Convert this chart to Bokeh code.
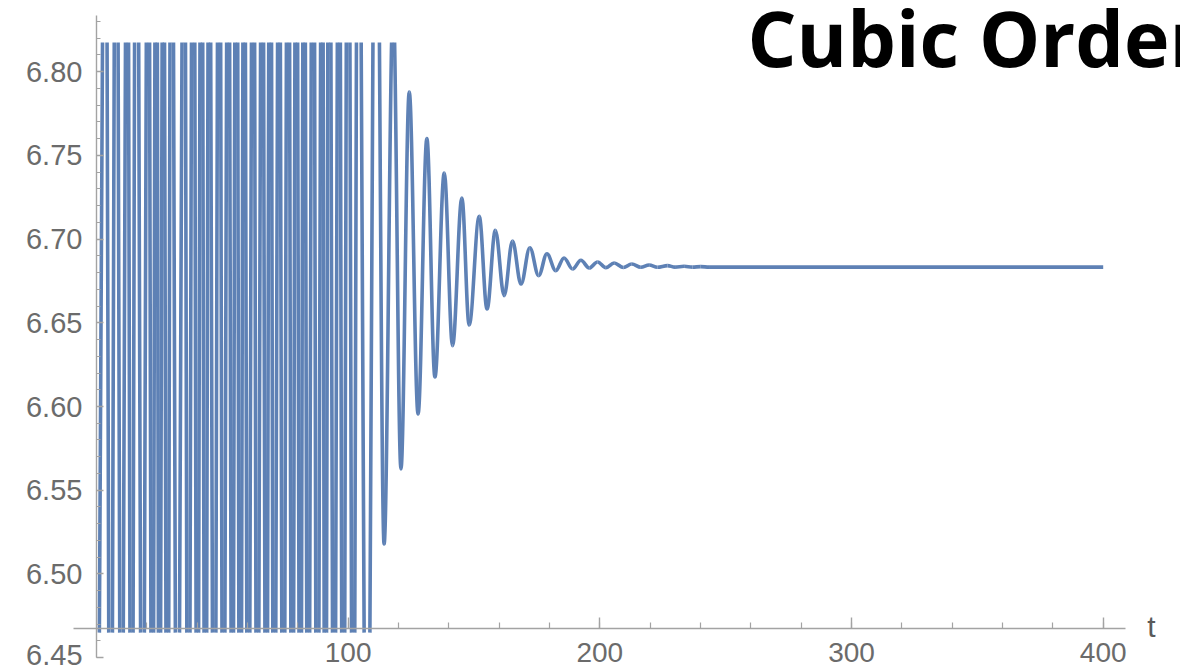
import numpy as np
from bokeh.plotting import figure
from bokeh.models import FixedTicker, NumeralTickFormatter, Label
from bokeh.embed import file_html
from bokeh.resources import INLINE

# ---- data (extrema of the solution curve) ----
# early part: oscillation far beyond the plotted range (values above/below are estimates)
peak_t = [3.6, 7.9, 12.3, 15.9, 20.6, 23.8, 26.6, 29.8, 34.9, 38.5, 41.7, 44.8, 48.8, 52.4,
          55.6, 58.7, 62.3, 65.9, 69.0, 72.6, 76.2, 79.4, 82.5, 86.1, 89.7, 92.5, 96.4, 100.0,
          104.0, 111.1, 117.9,
          124.3, 131.3, 138.2, 145.2, 152.1, 158.5, 165.3, 172.2, 179.0, 185.8, 192.5, 199.1,
          205.7, 212.7, 219.6, 226.9, 233.5, 240.1]
peak_v = [6.98, 7.02, 6.96, 7.05, 6.99, 7.01, 6.95, 7.03, 6.97, 7.04, 7.00, 6.96, 7.02, 6.98,
          7.05, 6.97, 7.01, 6.99, 7.03, 6.96, 7.02, 7.00, 6.98, 7.04, 6.97, 7.01, 6.99, 7.03,
          7.00, 7.00, 6.84,
          6.7878, 6.7599, 6.7394, 6.7245, 6.7135, 6.7052, 6.6988, 6.6948, 6.6912, 6.6887,
          6.6873, 6.6863, 6.6857, 6.6851, 6.6845, 6.6841, 6.6837, 6.6835]
trough_t = [0.0, 5.6, 9.9, 13.9, 18.3, 22.2, 25.0, 28.2, 32.1, 36.5, 40.1, 43.3, 46.8, 50.4,
            54.0, 57.1, 60.3, 63.9, 67.5, 70.6, 74.2, 77.8, 81.0, 84.1, 87.7, 90.9, 94.4, 98.0,
            102.0, 107.5, 114.3,
            121.0, 127.8, 134.5, 141.5, 148.1, 155.2, 162.0, 168.7, 175.7, 182.5, 189.2, 195.8,
            202.4, 209.4, 216.3, 222.9, 229.9, 236.8, 243.4]
trough_v = [6.30, 6.28, 6.31, 6.27, 6.30, 6.29, 6.32, 6.28, 6.30, 6.27, 6.31, 6.29, 6.28, 6.30,
            6.32, 6.27, 6.29, 6.31, 6.28, 6.30, 6.29, 6.27, 6.31, 6.30, 6.28, 6.29, 6.31, 6.28,
            6.30, 6.30, 6.518,
            6.5627, 6.5955, 6.6176, 6.6363, 6.6487, 6.6582, 6.6662, 6.6731, 6.6781, 6.6811,
            6.6821, 6.6827, 6.6829, 6.6830, 6.6831, 6.6831, 6.6832, 6.6832, 6.6832]
end_t = [400.0]
end_v = [6.6832]

x_major = [100, 200, 300, 400]
y_major = [6.45, 6.50, 6.55, 6.60, 6.65, 6.70, 6.75, 6.80]
title_text = "Cubic Order"
x_label = "t"

# plot range of the original (curve is cut at it)
clip_lo, clip_hi = 6.465, 6.8173
# visible window (frame covers the whole canvas)
x_start, x_end = -38.10, 430.71
y_start, y_end = 6.44179, 6.84239

# ---- smooth arcs between successive extrema, cut exactly at the plot range ----
t_all = np.array(peak_t + trough_t + end_t)
v_all = np.array(peak_v + trough_v + end_v)
order = np.argsort(t_all)
t_all, v_all = t_all[order], v_all[order]
k = 1 - 2 / np.pi
X0, X3 = t_all[:-1], t_all[1:]
Y0, Y3 = v_all[:-1], v_all[1:]
dX = X3 - X0
X1, X2 = X0 + k * dX, X3 - k * dX
Y1, Y2 = Y0, Y3


def inv_smooth(r):
    r = np.clip(r, 0.0, 1.0)
    return 0.5 - np.sin(np.arcsin(1 - 2 * r) / 3)


def bez(a, b, c, d, u):
    return (1 - u) ** 3 * a + 3 * (1 - u) ** 2 * u * b + 3 * (1 - u) * u ** 2 * c + u ** 3 * d


def dbez(a, b, c, d, u):
    return 3 * (1 - u) ** 2 * (b - a) + 6 * (1 - u) * u * (c - b) + 3 * u ** 2 * (d - c)


dY = Y3 - Y0
flat = np.abs(dY) < 1e-12
safe = np.where(flat, 1.0, dY)
ra = (clip_lo - Y0) / safe
rb = (clip_hi - Y0) / safe
rmin = np.clip(np.minimum(ra, rb), 0, 1)
rmax = np.clip(np.maximum(ra, rb), 0, 1)
inside_flat = (Y0 >= clip_lo) & (Y0 <= clip_hi)
rmin = np.where(flat, 0.0, rmin)
rmax = np.where(flat, np.where(inside_flat, 1.0, 0.0), rmax)
vis = rmax > rmin
ua, ub = inv_smooth(rmin[vis]), inv_smooth(rmax[vis])
du = (ub - ua) / 3
P = [arr[vis] for arr in (X0, X1, X2, X3)]
Q = [arr[vis] for arr in (Y0, Y1, Y2, Y3)]
sx0, sy0 = bez(*P, ua), bez(*Q, ua)
sx3, sy3 = bez(*P, ub), bez(*Q, ub)
sx1, sy1 = sx0 + du * dbez(*P, ua), sy0 + du * dbez(*Q, ua)
sx2, sy2 = sx3 - du * dbez(*P, ub), sy3 - du * dbez(*Q, ub)

p = figure(width=1180, height=671, x_range=(x_start, x_end), y_range=(y_start, y_end),
           output_backend="svg", toolbar_location=None,
           min_border_left=0, min_border_right=0, min_border_top=0, min_border_bottom=0)
p.xgrid.visible = False
p.ygrid.visible = False
p.outline_line_color = None
p.background_fill_color = "white"

color = "#5E81B5"
p.bezier(x0=sx0, y0=sy0, x1=sx3, y1=sy3, cx0=sx1, cy0=sy1, cx1=sx2, cy1=sy2,
         line_color=color, line_width=3.6, line_cap="butt")

axis_col = "#a3a3a3"
lab_col = "#6b6b6b"
for ax in (p.xaxis[0], p.yaxis[0]):
    ax.axis_line_color = axis_col
    ax.axis_line_width = 1.4
    ax.major_tick_line_color = axis_col
    ax.minor_tick_line_color = axis_col
    ax.major_tick_line_width = 1.4
    ax.minor_tick_line_width = 1.2
    ax.major_tick_out = 0
    ax.minor_tick_out = 0
    ax.major_label_text_font = "Liberation Sans"
    ax.major_label_text_color = lab_col

p.xaxis.fixed_location = 6.4675
p.xaxis.bounds = (-9.1, 408.9)
p.xaxis.ticker = FixedTicker(ticks=x_major, minor_ticks=list(range(20, 401, 20)))
p.xaxis.major_tick_in = 11
p.xaxis.minor_tick_in = 6
p.xaxis.major_label_standoff = 15
p.xaxis.major_label_text_font_size = "28px"

p.yaxis.fixed_location = 0
p.yaxis.bounds = (6.45, 6.8334)
p.yaxis.ticker = FixedTicker(ticks=y_major,
                             minor_ticks=list(np.round(np.arange(6.45, 6.835, 0.01), 2)))
p.yaxis.formatter = NumeralTickFormatter(format="0.00")
p.yaxis.major_tick_in = 7
p.yaxis.minor_tick_in = 4
p.yaxis.major_label_standoff = 14
p.yaxis.major_label_text_font_size = "29px"
# lowest label sits at the very bottom edge: draw it slightly raised, as in the original
p.yaxis.major_label_overrides = {y_major[0]: ""}
p.add_layout(Label(x=-5.5, y=6.4519, text=f"{y_major[0]:.2f}", text_font="Liberation Sans",
                   text_font_size="29px", text_color=lab_col, text_baseline="middle",
                   text_align="right"))

p.add_layout(Label(x=417.5, y=6.4685, text=x_label, text_font="Liberation Sans",
                   text_font_size="30px", text_color="#5a5a5a", text_baseline="middle",
                   text_align="left"))
p.add_layout(Label(x=258.7, y=6.8203, text=title_text, text_font="Open Sans",
                   text_font_style="bold", text_font_size="77px", text_color="black",
                   text_baseline="alphabetic", text_align="left"))

open("out.html", "w").write(file_html(p, INLINE))
